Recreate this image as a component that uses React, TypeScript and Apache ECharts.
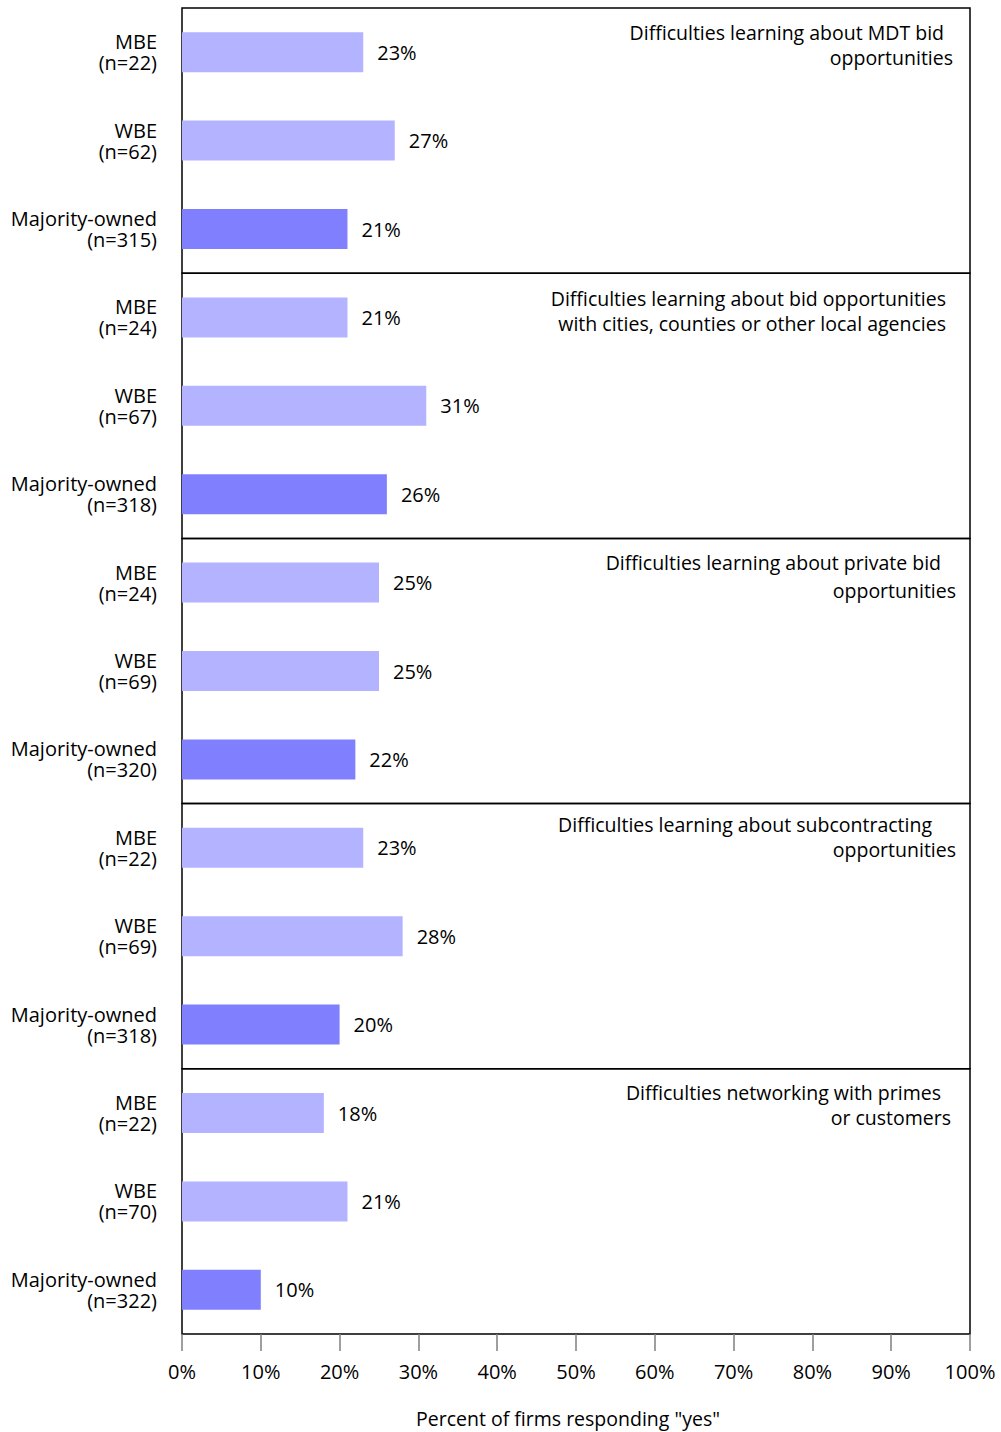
import React, { useEffect, useRef } from "react";
import * as echarts from "echarts";

const groups = ["MBE", "WBE", "Majority-owned"];
const sampleSizes = [
  [22, 62, 315],
  [24, 67, 318],
  [24, 69, 320],
  [22, 69, 318],
  [22, 70, 322],
];
const values = [
  [23, 27, 21],
  [21, 31, 26],
  [25, 25, 22],
  [23, 28, 20],
  [18, 21, 10],
];
const panelTitles = [
  ["Difficulties learning about MDT bid", "opportunities"],
  ["Difficulties learning about bid opportunities", "with cities, counties or other local agencies"],
  ["Difficulties learning about private bid", "opportunities"],
  ["Difficulties learning about subcontracting", "opportunities"],
  ["Difficulties networking with primes", "or customers"],
];
const axisTitle = 'Percent of firms responding "yes"';

const FONT = "Open Sans";
const FS = 20;
const FS_T = 19.5;
const LIGHT = "#B3B3FF";
const DARK = "#8080FF";

// layout (not data)
const PANEL_TOP = 8;
const PANEL_H = 265.2;
const GRID_LEFT = 182;
const GRID_W = 788;
const titleRightX = [
  [944, 953],
  [946, 946],
  [941, 956],
  [932, 956],
  [941, 951],
];
const titleYOff = [
  [24, 49],
  [25, 50],
  [24, 52],
  [21, 46],
  [24, 49],
];

export default function App() {
  const ref = useRef<HTMLDivElement>(null);
  useEffect(() => {
    if (!ref.current) return;
    const chart = echarts.init(ref.current, null, { renderer: "svg" });
    const n = values.length;
    const grids: any[] = [];
    const xAxes: any[] = [];
    const yAxes: any[] = [];
    const series: any[] = [];
    const graphics: any[] = [];
    for (let i = 0; i < n; i++) {
      const top = PANEL_TOP + i * PANEL_H;
      const last = i === n - 1;
      grids.push({
        left: GRID_LEFT,
        width: GRID_W,
        top,
        height: PANEL_H,
        show: true,
        borderColor: "#000",
        borderWidth: 1.5,
        backgroundColor: "transparent",
      });
      xAxes.push({
        type: "value",
        gridIndex: i,
        min: 0,
        max: 100,
        interval: 10,
        show: last,
        splitLine: { show: false },
        axisLine: { show: false },
        axisTick: {
          show: last,
          length: 17,
          inside: false,
          lineStyle: { color: "#7f7f7f", width: 1.5 },
        },
        axisLabel: {
          show: last,
          formatter: "{value}%",
          fontFamily: FONT,
          fontSize: FS,
          color: "#000",
          margin: 27,
        },
        name: last ? axisTitle : "",
        nameLocation: "middle",
        nameGap: 74,
        nameTextStyle: {
          fontFamily: FONT,
          fontSize: FS_T,
          color: "#000",
          padding: [0, 16, 0, 0],
        },
      });
      yAxes.push({
        type: "category",
        gridIndex: i,
        inverse: true,
        data: groups.map((g, j) => `${g}\n(n=${sampleSizes[i][j]})`),
        axisLine: { show: false },
        axisTick: { show: false },
        splitLine: { show: false },
        axisLabel: {
          fontFamily: FONT,
          fontSize: FS,
          color: "#000",
          lineHeight: 21,
          margin: 25,
          align: "right",
        },
      });
      series.push({
        type: "bar",
        xAxisIndex: i,
        yAxisIndex: i,
        barWidth: 40,
        data: values[i].map((v, j) => ({
          value: v,
          itemStyle: { color: j === 2 ? DARK : LIGHT },
        })),
        label: {
          show: true,
          position: "right",
          distance: 14,
          formatter: "{c}%",
          fontFamily: FONT,
          fontSize: FS,
          color: "#000",
        },
      });
      panelTitles[i].forEach((line, k) => {
        graphics.push({
          type: "text",
          x: titleRightX[i][k],
          y: top + titleYOff[i][k],
          style: {
            text: line,
            fontFamily: FONT,
            fontSize: FS_T,
            fill: "#000",
            textAlign: "right",
            textVerticalAlign: "middle",
          },
        });
      });
    }
    chart.setOption({
      animation: false,
      backgroundColor: "#fff",
      grid: grids,
      xAxis: xAxes,
      yAxis: yAxes,
      series,
      graphic: graphics,
    });
    return () => chart.dispose();
  }, []);
  return (
    <div
      ref={ref}
      style={{ position: "fixed", left: 0, top: 0, width: 1001, height: 1432 }}
    />
  );
}
